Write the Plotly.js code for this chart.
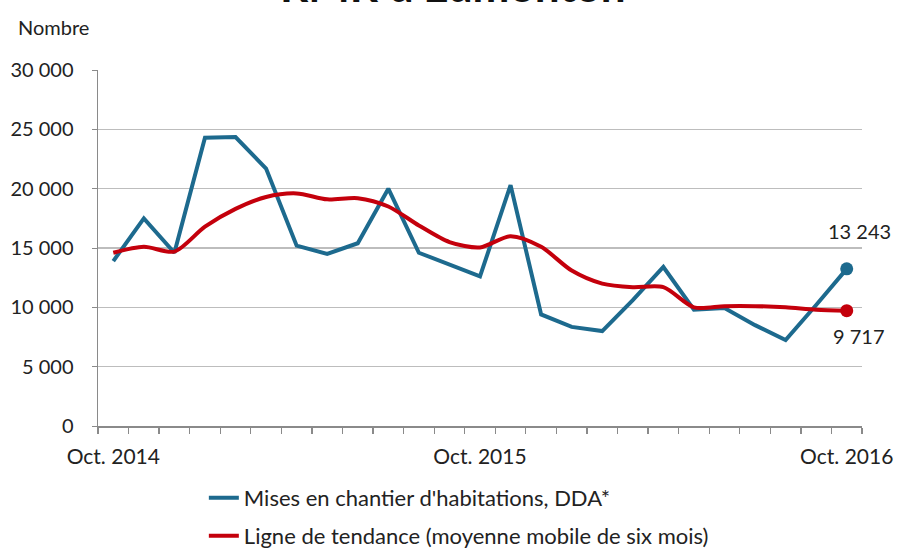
<!DOCTYPE html>
<html>
<head>
<meta charset="utf-8">
<script src="https://cdn.plot.ly/plotly-3.0.1.min.js"></script>
<style>html,body{margin:0;padding:0;background:#fff;}#chart{width:898px;height:548px;}</style>
</head>
<body>
<div id="chart"></div>
<script>
const categories = ["oct. 2014","nov. 2014","déc. 2014","janv. 2015","févr. 2015","mars 2015","avr. 2015","mai 2015","juin 2015","juil. 2015","août 2015","sept. 2015","oct. 2015","nov. 2015","déc. 2015","janv. 2016","févr. 2016","mars 2016","avr. 2016","mai 2016","juin 2016","juil. 2016","août 2016","sept. 2016","oct. 2016"];
const startsSA = [13900,17500,14600,24300,24350,21700,15200,14500,15400,20000,14600,13600,12600,20300,9400,8350,8000,10600,13400,9800,9950,8500,7250,10200,13243];
const trend = [14600,15100,14700,16800,18300,19300,19600,19100,19200,18500,16900,15500,15050,16000,15100,13100,12000,11700,11700,10000,10100,10100,10000,9800,9717];
const tickIndex = [0,12,24];
const tickLabels = ["Oct. 2014","Oct. 2015","Oct. 2016"];
const seriesNames = ["Mises en chantier d'habitations, DDA*","Ligne de tendance (moyenne mobile de six mois)"];
const titleText = "RMR d'Edmonton";
const yTitle = "Nombre";

const FONT = "Lato, 'Open Sans', sans-serif";
const blue = "#1d6a8e";
const red = "#c4000c";
const xs = categories.map((_, i) => i);
const lastIdx = categories.length - 1;
const fmt = v => Math.round(v).toString().replace(/\B(?=(\d{3})+(?!\d))/g, " ");

const traces = [
  {x: xs, y: startsSA, name: seriesNames[0], type: "scatter", mode: "lines",
   line: {color: blue, width: 4}, legend: "legend", hoverinfo: "skip"},
  {x: xs, y: trend, name: seriesNames[1], type: "scatter", mode: "lines",
   line: {color: red, width: 4, shape: "spline", smoothing: 0.8}, legend: "legend2", hoverinfo: "skip"},
  {x: [xs[lastIdx]], y: [startsSA[lastIdx]], type: "scatter", mode: "markers", showlegend: false,
   marker: {color: blue, size: 13}, hoverinfo: "skip"},
  {x: [xs[lastIdx]], y: [trend[lastIdx]], type: "scatter", mode: "markers", showlegend: false,
   marker: {color: red, size: 13}, hoverinfo: "skip"}
];

const legFont = {family: FONT, size: 22, color: "#222"};
const layout = {
  width: 898, height: 548,
  margin: {l: 98, r: 36, t: 70, b: 122, autoexpand: false},
  paper_bgcolor: "#fff", plot_bgcolor: "#fff",
  separators: ", ",
  font: {family: FONT, size: 20, color: "#222"},
  showlegend: true,
  xaxis: {
    range: [-0.5, 24.5], showgrid: false, zeroline: false, automargin: false,
    showline: true, linecolor: "#8a8a8a", linewidth: 1.5,
    tickmode: "array", tickvals: tickIndex, ticktext: tickLabels,
    ticks: "", ticklabelstandoff: 11,
    minor: {tickmode: "linear", tick0: -0.5, dtick: 1, ticks: "outside", ticklen: 6, tickcolor: "#8a8a8a", tickwidth: 1.3, showgrid: false},
    tickfont: {family: FONT, size: 21, color: "#222"}
  },
  yaxis: {
    range: [0, 30000], dtick: 5000, tickformat: ",d", automargin: false,
    showgrid: true, gridcolor: "#bdbdbd", gridwidth: 1.2,
    zeroline: false, showline: true, linecolor: "#8a8a8a", linewidth: 1.5,
    ticks: "outside", ticklen: 5, tickcolor: "#8a8a8a", ticklabelstandoff: 14,
    tickfont: {family: FONT, size: 20, color: "#222"}
  },
  legend: {xref: "container", yref: "container", x: 0.227, y: 1 - 498/548, xanchor: "left", yanchor: "middle",
           itemwidth: 30, font: legFont, bgcolor: "rgba(0,0,0,0)", borderwidth: 0},
  legend2: {xref: "container", yref: "container", x: 0.227, y: 1 - 536/548, xanchor: "left", yanchor: "middle",
           itemwidth: 30, font: legFont, bgcolor: "rgba(0,0,0,0)", borderwidth: 0},
  annotations: [
    {text: "<b>" + titleText + "</b>", xref: "paper", yref: "paper", x: (453 - 98) / 764, y: (426 + 15) / 356,
     xanchor: "center", yanchor: "middle", showarrow: false, font: {family: FONT, size: 44, color: "#111"}},
    {text: yTitle, xref: "paper", yref: "paper", x: (16 - 98) / 764, y: (426 - 27) / 356,
     xanchor: "left", yanchor: "middle", showarrow: false, font: {family: FONT, size: 20, color: "#222"}},
    {text: fmt(startsSA[lastIdx]), x: lastIdx, y: startsSA[lastIdx], xref: "x", yref: "y",
     showarrow: false, xshift: 13, yshift: 38, font: {family: FONT, size: 20, color: "#222"}},
    {text: fmt(trend[lastIdx]), x: lastIdx, y: trend[lastIdx], xref: "x", yref: "y",
     showarrow: false, xshift: 12, yshift: -25, font: {family: FONT, size: 20, color: "#222"}}
  ]
};

Plotly.newPlot("chart", traces, layout, {displayModeBar: false, staticPlot: true});
</script>
</body>
</html>
